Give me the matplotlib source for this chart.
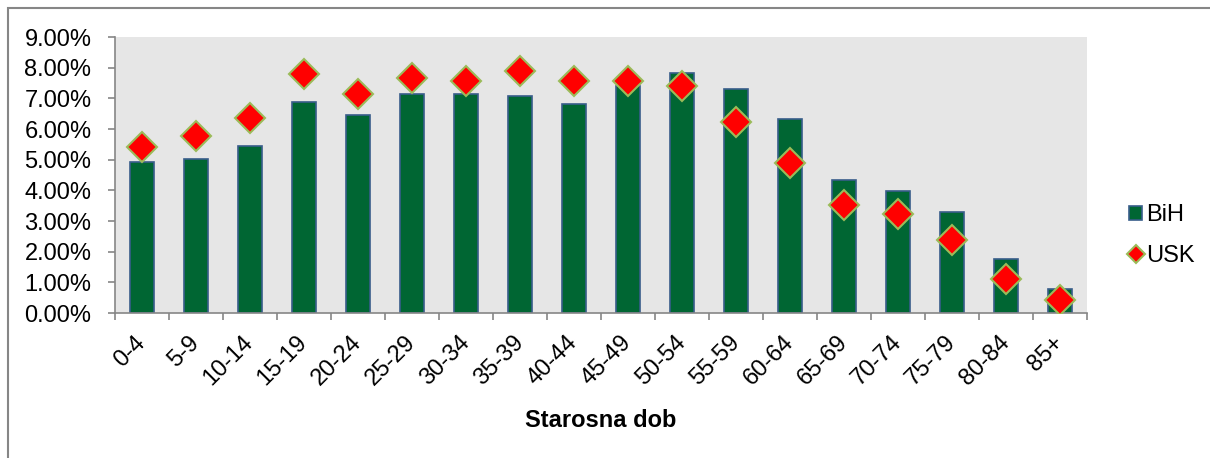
import matplotlib
matplotlib.use("Agg")
import matplotlib.pyplot as plt
from matplotlib.patches import Rectangle
from matplotlib.ticker import FuncFormatter, FixedLocator
import numpy as np

# age groups and population shares (%)
age_groups = ["0-4", "5-9", "10-14", "15-19", "20-24", "25-29", "30-34", "35-39",
              "40-44", "45-49", "50-54", "55-59", "60-64", "65-69", "70-74",
              "75-79", "80-84", "85+"]
bih = [4.93, 5.01, 5.45, 6.87, 6.46, 7.14, 7.15, 7.06, 6.83, 7.41, 7.84, 7.32,
       6.33, 4.34, 3.98, 3.30, 1.75, 0.78]
usk = [5.40, 5.77, 6.37, 7.80, 7.14, 7.67, 7.57, 7.90, 7.57, 7.57, 7.41, 6.22,
       4.88, 3.52, 3.23, 2.38, 1.11, 0.42]

plt.rcParams["font.family"] = ["Liberation Sans", "DejaVu Sans"]
FS = 17

fig = plt.figure(figsize=(12.10, 4.58), dpi=100)
ax = fig.add_axes([115 / 1210, 1 - 313 / 458, (1087 - 115) / 1210, (313 - 37) / 458])

# outer chart frame (only top/left visible in reference)
fig.add_artist(Rectangle((8 / 1210, -0.05), 1.2, 1 - 8 / 458 + 0.05,
                         transform=fig.transFigure, fill=False,
                         edgecolor="#868686", linewidth=1.5))

x = np.arange(len(age_groups))
ax.set_facecolor("#E6E6E6")
bars = ax.bar(x, bih, width=0.43, color="#006633", edgecolor="#385D8A",
              linewidth=1.2, label="BiH", zorder=2)
pts, = ax.plot(x, usk, linestyle="none", marker="D", markersize=15,
               markerfacecolor="#FF0000", markeredgecolor="#9BBB59",
               markeredgewidth=1.5, label="USK", zorder=3)

ax.set_xlim(-0.5, len(age_groups) - 0.5)
ax.set_ylim(0, 9)
ax.set_yticks(np.arange(0, 10, 1))
ax.yaxis.set_major_formatter(FuncFormatter(lambda v, p: f"{v:.2f}%"))

ax.set_xticks(x)
ax.set_xticklabels(age_groups, rotation=45, ha="right", va="center",
                   rotation_mode="anchor", fontsize=FS)
ax.tick_params(axis="x", which="major", length=0, pad=19)
ax.xaxis.set_minor_locator(FixedLocator(np.arange(-0.5, len(age_groups), 1)))
ax.tick_params(axis="x", which="minor", length=5, color="#868686", width=1.2)
ax.tick_params(axis="y", length=5, color="#868686", width=1.2, labelsize=FS, pad=12)

for s in ["top", "right"]:
    ax.spines[s].set_visible(False)
for s in ["left", "bottom"]:
    ax.spines[s].set_color("#868686")
    ax.spines[s].set_linewidth(1.2)

ax.set_xlabel("Starosna dob", fontsize=FS, fontweight="bold", labelpad=14)

leg = ax.legend([bars, pts], ["BiH", "USK"], loc="center left",
                bbox_to_anchor=(1.024, 0.28), frameon=False,
                fontsize=FS, handlelength=0.55, handleheight=0.55,
                handletextpad=0.15, labelspacing=0.8, markerscale=0.6,
                borderpad=0.3)

fig.savefig("out.png", dpi=100)
